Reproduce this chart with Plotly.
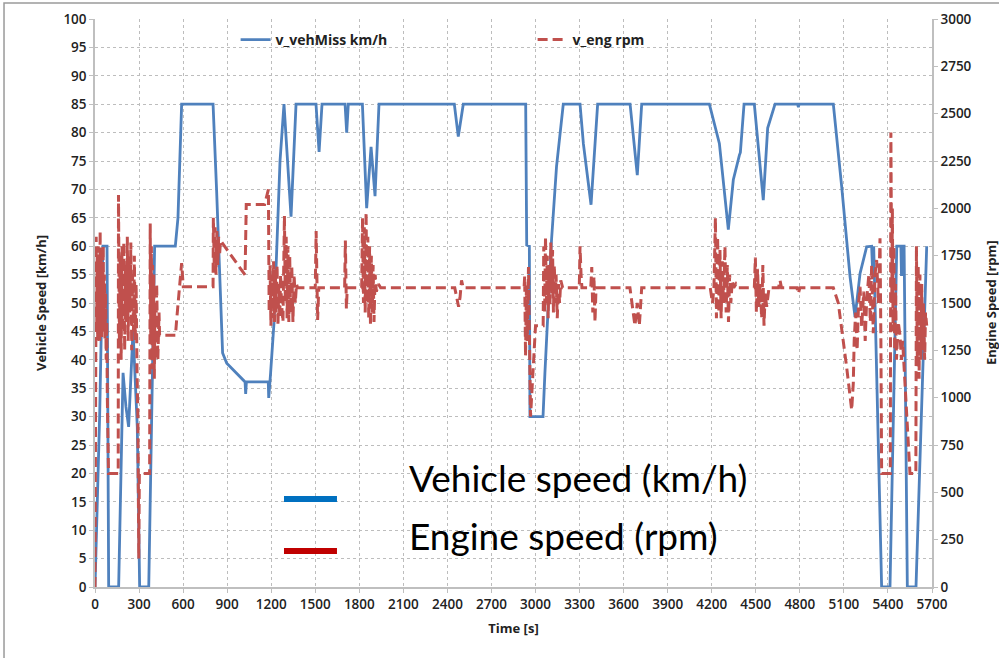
import plotly.graph_objects as go

# ---------------- data ----------------
# Vehicle speed (km/h) – left axis
veh_t = [0, 32, 54, 82, 93, 161, 191, 211, 229, 259, 288, 304, 366, 406, 547, 565, 590,
         804, 828, 851, 869, 897, 1022, 1026, 1031, 1180, 1183, 1196, 1219, 1260, 1287,
         1335, 1369, 1505, 1526, 1546, 1703, 1714, 1725, 1821, 1850, 1880, 1907, 1934,
         2447, 2474, 2488, 2508, 2933, 2940, 2958, 2962, 3051, 3064, 3109, 3143, 3189,
         3303, 3326, 3378, 3423, 3644, 3693, 3723, 4184, 4252, 4313, 4347, 4388, 4395,
         4420, 4490, 4551, 4581, 4631, 4785, 4790, 4795, 5028, 5085, 5142, 5176, 5210,
         5255, 5289, 5296, 5303, 5357, 5414, 5460, 5488, 5492, 5498, 5502, 5510, 5532,
         5591, 5664]
veh_v = [0, 30.6, 60, 60, 0, 0, 37.7, 31.7, 28.2, 45.2, 28.2, 0, 0, 60, 60, 65, 85,
         85, 69.9, 52.3, 41.2, 39.4, 36.1, 34, 36.1, 36.1, 33.3, 37.7, 46.5, 75, 85,
         65.2, 85, 85, 76.6, 85, 85, 80, 85, 85, 66.7, 77.5, 68.8, 85,
         85, 79.3, 81.7, 85, 85, 60.2, 60, 30, 30, 37.7, 61.1, 74, 85,
         85, 78, 67.3, 85, 85, 72.5, 85, 85, 78.1, 62.9, 71.7, 76, 76.5,
         85, 85, 68.1, 80.8, 85, 85, 84.5, 85, 85, 70.5, 54.6, 47.5, 55.2,
         59.9, 60, 55.2, 60, 0, 0, 60, 60, 55, 55, 60, 60, 0,
         0, 60]

# Engine speed (rpm) – right axis
eng_t = [0, 5, 8, 12, 15, 18, 22, 25, 29, 32, 35, 38, 42, 45, 49, 52, 56, 60, 64, 68, 72,
         76, 80, 84, 88, 92, 158,
         160, 166, 172, 178, 184, 190, 196, 202, 208, 214, 220, 226, 232, 238, 244, 250,
         256, 262, 268, 274, 280, 286, 292, 298, 302, 372,
         376, 380, 384, 388, 392, 396, 400, 404, 408, 412, 420, 428, 436, 440, 548,
         556, 590, 601, 804,
         806, 812, 818, 824, 830, 836, 842, 848, 855, 1022, 1030, 1155, 1181,
         1186, 1192, 1198, 1204, 1210, 1216, 1222, 1228, 1234, 1240, 1246, 1252, 1258,
         1264, 1270, 1280, 1290, 1296, 1302, 1308, 1314, 1320, 1326, 1332, 1340, 1348,
         1356, 1364, 1372, 1380, 1500, 1506, 1512, 1516, 1524, 1700, 1705, 1712, 1718,
         1816, 1822, 1828, 1834, 1840, 1846, 1852, 1858, 1864, 1870, 1876, 1882, 1888,
         1894, 1900, 1908, 1916, 1930, 1945,
         2450, 2462, 2476, 2486, 2496, 2508, 2922, 2926, 2932, 2938, 2944, 2952, 2962,
         2966, 3000, 3052,
         3056, 3062, 3068, 3074, 3080, 3086, 3092, 3098, 3104, 3110, 3116, 3122, 3128,
         3134, 3140, 3148, 3156, 3164, 3172, 3185,
         3298, 3303, 3310, 3316, 3376, 3383, 3390, 3398, 3405, 3412,
         3643, 3655, 3677, 3693, 3707, 3723,
         4190, 4205, 4215, 4225, 4232, 4240, 4248, 4256, 4264, 4272, 4280, 4290, 4298,
         4306, 4314, 4322, 4330, 4340, 4350, 4365, 4380,
         4490, 4497, 4504, 4512, 4520, 4530, 4540, 4548, 4556, 4564, 4574, 4590,
         4655, 4665, 4675, 4780, 4790, 4800,
         5028, 5062, 5119, 5136, 5153, 5164, 5170, 5180, 5190, 5200, 5210, 5221, 5235,
         5245, 5255, 5270, 5280, 5289, 5300, 5312, 5323, 5335, 5346, 5352, 5357,
         5416, 5420, 5426, 5430, 5435, 5440, 5446, 5452, 5458, 5470, 5482, 5492, 5500,
         5520, 5540, 5550, 5590,
         5594, 5600, 5606, 5612, 5618, 5624, 5630, 5636, 5642, 5650, 5656, 5664]
eng_rpm = [0, 900, 1850, 1400, 1750, 1300, 1800, 1350, 1700, 1300, 1880, 1400, 1780, 1320,
           1700, 1450, 1800, 1350, 1650, 1300, 1550, 1200, 1400, 1000, 750, 600, 600,
           2070, 1300, 1750, 1200, 1800, 1350, 1820, 1250, 1700, 1400, 1850, 1300, 1750,
           1450, 1820, 1250, 1650, 1350, 1750, 1300, 1600, 1150, 900, 150, 600, 600,
           1920, 1300, 1800, 1150, 1700, 1250, 1650, 1100, 1500, 1200, 1600, 1200, 1450,
           1330, 1330,
           1410, 1711, 1586, 1586,
           1950, 1700, 1900, 1650, 1880, 1700, 1850, 1750, 1830, 1648, 2020, 2020, 2100,
           1450, 1700, 1380, 1650, 1420, 1720, 1400, 1680, 1450, 1700, 1380, 1600, 1420,
           1650, 1500, 1400, 1960, 1500, 1850, 1420, 1800, 1400, 1750, 1450, 1700, 1400,
           1650, 1500, 1600, 1580, 1580, 1880, 1580, 1410, 1580, 1580, 1830, 1470, 1580,
           1580, 1950, 1500, 1900, 1450, 1980, 1500, 1850, 1420, 1800, 1380, 1750, 1450,
           1700, 1400, 1650, 1560, 1600, 1580,
           1580, 1530, 1480, 1530, 1620, 1580, 1580, 1640, 1220, 1600, 1300, 1690, 900,
           900, 1380, 1380,
           1800, 1450, 1850, 1500, 1750, 1420, 1700, 1480, 1820, 1550, 1780, 1450, 1700,
           1500, 1650, 1420, 1600, 1500, 1620, 1580,
           1580, 1800, 1650, 1580, 1580, 1690, 1450, 1640, 1400, 1580,
           1580, 1500, 1380, 1500, 1380, 1580,
           1580, 1500, 1580, 1950, 1420, 1850, 1450, 1780, 1420, 1720, 1500, 1800, 1450,
           1700, 1400, 1650, 1500, 1620, 1580, 1600, 1580,
           1580, 1740, 1450, 1680, 1480, 1600, 1420, 1700, 1380, 1550, 1480, 1580,
           1580, 1620, 1580, 1580, 1550, 1580,
           1580, 1500, 1160, 1040, 935, 1076, 1300, 1450, 1250, 1500, 1586, 1375, 1560,
           1300, 1516, 1650, 1400, 1700, 1340, 1650, 1727, 1500, 1842, 1300, 600,
           600, 2400, 1500, 2000, 1350, 1800, 1250, 1600, 1200, 1400, 1330, 1200, 1300,
           1000, 700, 600, 600,
           1800, 1200, 1700, 1100, 1650, 1200, 1600, 1250, 1500, 1200, 1450, 1380]

x_ticks = list(range(0, 5701, 300))

# ---------------- figure ----------------
tick_font = dict(family="Open Sans", size=13.5, color="#222222", weight=600)
title_font = dict(family="Open Sans", size=13, color="#222222", weight=700)
grid_col = "#bdbdbd"
axis_col = "#bfbfbf"

fig = go.Figure()
fig.add_trace(go.Scatter(x=veh_t, y=veh_v, mode="lines", name="v_vehMiss km/h",
                         line=dict(color="#4F81BD", width=2.8)))
fig.add_trace(go.Scatter(x=eng_t, y=eng_rpm, mode="lines", name="v_eng rpm", yaxis="y2",
                         line=dict(color="#C0504D", width=3, dash="10px,5px")))

fig.update_layout(
    width=999, height=658,
    margin=dict(l=95, r=67, t=19, b=71),
    paper_bgcolor="white", plot_bgcolor="white",
    xaxis=dict(range=[0, 5700], tickvals=x_ticks, showgrid=True, gridcolor=grid_col,
               griddash="dot", gridwidth=1, showline=True, linecolor=axis_col, linewidth=1.5,
               ticks="outside", ticklen=4, tickcolor=axis_col, tickfont=tick_font,
               zeroline=False, automargin=False,
               title=dict(text="Time [s]", font=title_font, standoff=12)),
    yaxis=dict(range=[0, 100], dtick=5, showgrid=True, gridcolor=grid_col, griddash="dot",
               gridwidth=1, showline=True, linecolor=axis_col, linewidth=1.5,
               ticks="outside", ticklen=4, tickcolor=axis_col, tickfont=tick_font,
               zeroline=False, automargin=False,
               title=dict(text="Vehicle Speed [km/h]", font=title_font, standoff=14)),
    yaxis2=dict(range=[0, 3000], dtick=250, overlaying="y", side="right", showgrid=False,
                showline=True, linecolor=axis_col, linewidth=1.5, ticks="outside",
                ticklen=4, tickcolor=axis_col, tickfont=tick_font, zeroline=False,
                automargin=False),
    legend=dict(orientation="h", x=0.168, y=0.963, xanchor="left", yanchor="middle",
                bgcolor="rgba(0,0,0,0)", font=dict(family="Open Sans", size=14,
                color="#222222", weight=700), entrywidth=252, entrywidthmode="pixels"),
    showlegend=True,
)

# right axis title, close to the right edge as in the original
fig.add_annotation(text="Engine Speed [rpm]", xref="paper", yref="paper", x=1.0705, y=0.5,
                   xanchor="center", yanchor="middle", textangle=-90, showarrow=False,
                   font=title_font)

# outer frame of the picture
fig.add_shape(type="rect", xref="paper", yref="paper", x0=-0.1087, x1=1.3, y0=-0.3,
              y1=1.028, line=dict(color="#9a9a9a", width=1.5), fillcolor="rgba(0,0,0,0)",
              layer="below")

# big annotation legend
fig.add_shape(type="line", xref="paper", yref="paper", x0=0.2258, x1=0.2891,
              y0=0.1549, y1=0.1549, line=dict(color="#0070C0", width=6))
fig.add_shape(type="line", xref="paper", yref="paper", x0=0.2258, x1=0.2891,
              y0=0.0634, y1=0.0634, line=dict(color="#C00000", width=6))
big_font = dict(family="Lato", size=37, color="black")
fig.add_annotation(text="Vehicle speed (km/h)", xref="paper", yref="paper", x=0.3725,
                   y=0.192, xanchor="left", yanchor="middle", showarrow=False, font=big_font)
fig.add_annotation(text="Engine speed (rpm)", xref="paper", yref="paper", x=0.3725,
                   y=0.090, xanchor="left", yanchor="middle", showarrow=False, font=big_font)

fig.write_html("out.html")
